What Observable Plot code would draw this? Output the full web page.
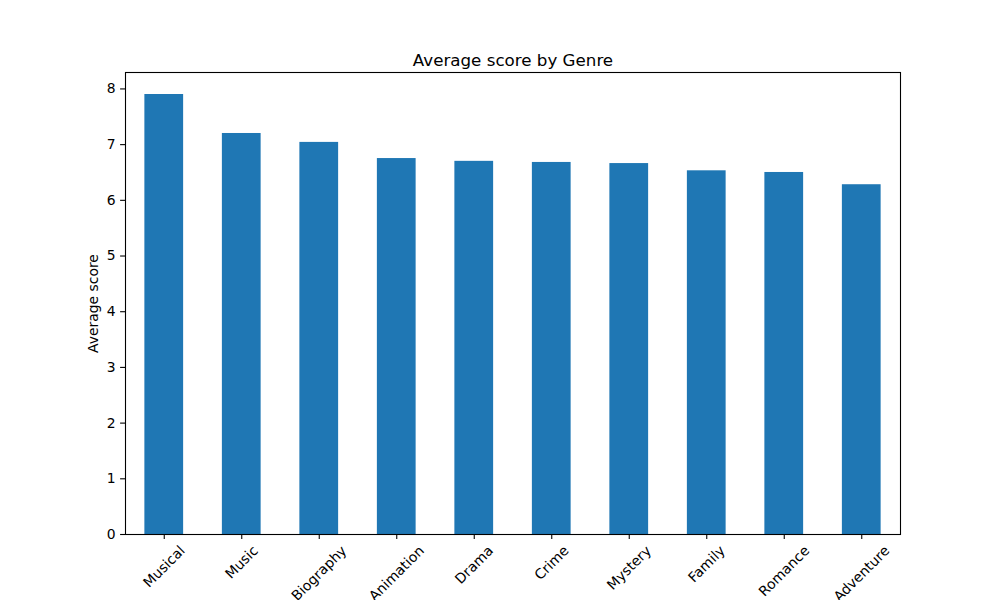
<!DOCTYPE html>
<html><head><meta charset="utf-8">
<script src="https://cdn.jsdelivr.net/npm/d3@7"></script>
<script src="https://cdn.jsdelivr.net/npm/@observablehq/plot@0.6"></script>
<style>body{margin:0;background:#fff} svg{display:block}</style>
</head><body><div id="chart"></div>
<script>
const genres = ["Musical","Music","Biography","Animation","Drama","Crime","Mystery","Family","Romance","Adventure"];
const scores = [7.90, 7.20, 7.04, 6.75, 6.70, 6.68, 6.66, 6.53, 6.50, 6.28];
const yTicks = [0,1,2,3,4,5,6,7,8];
const title = "Average score by Genre";
const yLabel = "Average score";

const data = genres.map((g,i)=>({genre:g, score:scores[i]}));
const FONT = "DejaVu Sans";
const fs = 13.9;
const ctx = document.createElement("canvas").getContext("2d");
ctx.font = `${fs}px "${FONT}"`;
const labelMarks = genres.map(g => {
  const w = ctx.measureText(g).width;
  const h = fs * 1.0;
  return Plot.text([g], {x: d=>d, frameAnchor:"bottom", text: d=>d, rotate:-45, textAnchor:"middle", lineAnchor:"middle", dy: 9.0 + (w+h)/(2*Math.SQRT2), fontSize: fs, fill:"black"});
});

const chart = Plot.plot({
  width: 1000, height: 600,
  marginLeft: 125, marginRight: 100, marginTop: 72, marginBottom: 66,
  style: {fontFamily: FONT, fontSize: fs + "px", background: "#fff", color: "black"},
  x: {domain: genres, paddingInner: 0.5, paddingOuter: 0.25, align: 0.5, round: false, label: null},
  y: {domain: [0, 8.295], label: null},
  marks: [
    Plot.barY(data, {x:"genre", y:"score", fill:"#1f77b4"}),
    Plot.axisY(yTicks, {tickSize: 4.9, tickPadding: 4.9, fontSize: fs, label: null, tickFormat: d=>String(d), strokeWidth: 1.1}),
    Plot.axisX({tickSize: 4.9, tickFormat: () => "", label: null, strokeWidth: 1.1}),
    ...labelMarks,
    Plot.frame({stroke:"black", strokeWidth:1.1}),
    Plot.text([title], {frameAnchor:"top", lineAnchor:"bottom", dy:-7, fontSize:16.7, fill:"black"}),
    Plot.text([yLabel], {frameAnchor:"left", rotate:-90, dx:-32, textAnchor:"middle", fontSize: fs, fill:"black"})
  ]
});
document.getElementById("chart").appendChild(chart);
</script>
</body></html>
